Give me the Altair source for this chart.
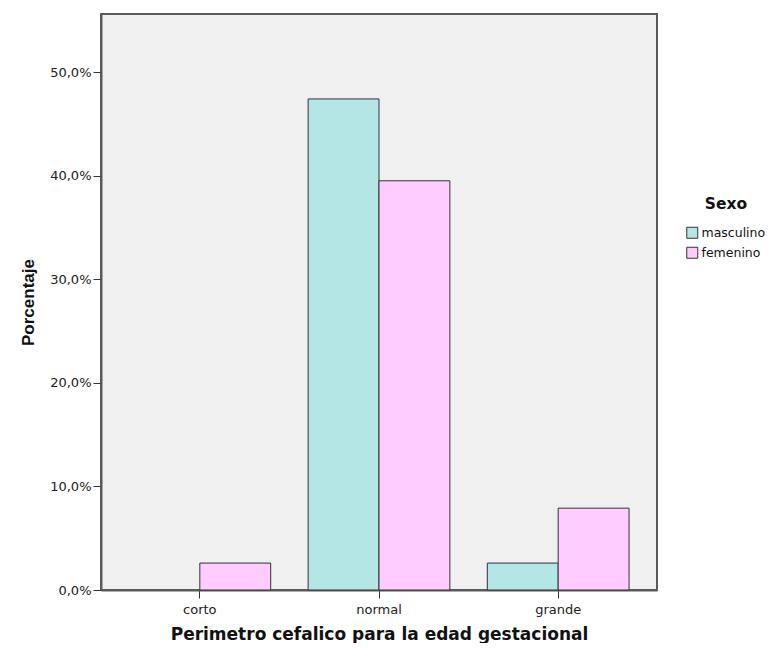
import altair as alt
import pandas as pd

categorias = ["corto", "corto", "normal", "normal", "grande", "grande"]
sexo = ["masculino", "femenino", "masculino", "femenino", "masculino", "femenino"]
porcentaje = [0.0, 2.6, 47.4, 39.5, 2.6, 7.9]

orden_cat = ["corto", "normal", "grande"]
orden_sexo = ["masculino", "femenino"]
colores = ["#B4E6E6", "#FFCCFF"]
ticks_y = [0, 10, 20, 30, 40, 50]

df = pd.DataFrame({"cat": categorias, "sexo": sexo, "pct": porcentaje})

chart = (
    alt.Chart(df)
    .transform_filter("datum.pct > 0")
    .mark_bar(stroke="#333333", strokeWidth=1, opacity=1)
    .encode(
        x=alt.X(
            "cat:N",
            sort=orden_cat,
            scale=alt.Scale(paddingInner=0.209, paddingOuter=0.156),
            axis=alt.Axis(
                title="Perimetro cefalico para la edad gestacional",
                labelAngle=0,
                labelFont="DejaVu Sans",
                labelFontSize=13,
                labelColor="#222222",
                labelPadding=5,
                tickSize=8,
                tickColor="#333333",
                domainColor="#5a5a5a",
                domainWidth=2,
                titleFont="DejaVu Sans",
                titleFontSize=17,
                titleFontWeight="bold",
                titleColor="#111111",
                titlePadding=10,
            ),
        ),
        xOffset=alt.XOffset(
            "sexo:N",
            sort=orden_sexo,
            scale=alt.Scale(domain=orden_sexo, paddingInner=0, paddingOuter=0),
        ),
        y=alt.Y(
            "pct:Q",
            scale=alt.Scale(domain=[0, 55.6], nice=False),
            axis=alt.Axis(
                title="Porcentaje",
                values=ticks_y,
                labelExpr="replace(format(datum.value, '.1f'), '.', ',') + '%'",
                labelFont="DejaVu Sans",
                labelFontSize=13,
                labelColor="#222222",
                labelPadding=2,
                tickSize=8,
                tickColor="#333333",
                domainColor="#5a5a5a",
                domainWidth=2,
                grid=False,
                titleFont="Liberation Sans",
                titleFontSize=17,
                titleFontWeight="bold",
                titleColor="#111111",
                titlePadding=12,
            ),
        ),
        fill=alt.Fill(
            "sexo:N",
            sort=orden_sexo,
            scale=alt.Scale(domain=orden_sexo, range=colores),
            legend=alt.Legend(
                title="Sexo",
                orient="none",
                legendX=585,
                legendY=183,
                titleFont="DejaVu Sans",
                titleFontSize=15.5,
                titleFontWeight="bold",
                titleColor="#111111",
                titleAnchor="middle",
                titlePadding=14,
                labelFont="DejaVu Sans",
                labelFontSize=12.5,
                labelColor="#111111",
                labelOffset=3,
                symbolType="square",
                symbolSize=121,
                symbolStrokeColor="#333333",
                symbolStrokeWidth=1,
                rowPadding=4,
            ),
        ),
    )
    .properties(
        width=556,
        height=576,
        autosize=alt.AutoSizeParams(type="none"),
        padding={"left": 93, "top": 6, "right": 111, "bottom": 53},
        background="white",
    )
    .configure_view(fill="#F0F0F0", stroke="#5a5a5a", strokeWidth=2)
)

chart.save("out.html", embed_options={"renderer": "svg", "actions": False})
